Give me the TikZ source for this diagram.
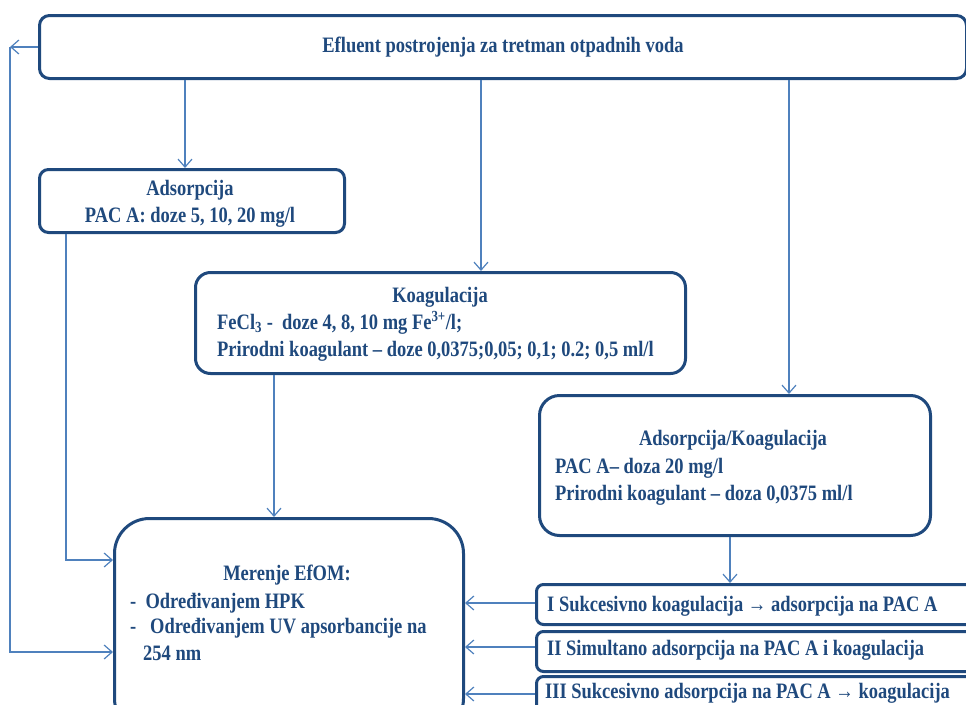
\documentclass[tikz,border=0pt]{standalone}
\usepackage{fontspec}
\setmainfont{Liberation Serif}[FakeStretch=0.84]
\usetikzlibrary{arrows.meta}
\definecolor{boxblue}{RGB}{31,73,125}
\definecolor{lineblue}{RGB}{79,129,189}

\begin{document}
\begin{tikzpicture}[x=1pt, y=-1pt,
    blk/.style={draw=boxblue, line width=3pt, fill=white, inner sep=0pt, anchor=north west},
    lbl/.style={text=boxblue, font=\bfseries\fontsize{22}{26}\selectfont, inner sep=0pt},
    link/.style={draw=lineblue, line width=1.2pt, -{Straight Barb[length=8pt, width=14pt]}}]
    \clip (0,0) rectangle (966,704);
    \useasboundingbox (0,0) rectangle (966,704);

    \node[blk, rounded corners=10pt, minimum width=927, minimum height=63] (efl) at (38,14) {};
    \node[blk, rounded corners=9pt, minimum width=305, minimum height=63] (ads) at (38,168) {};
    \node[blk, rounded corners=15pt, minimum width=490, minimum height=101] (koag) at (194,271) {};
    \node[blk, rounded corners=20pt, minimum width=391, minimum height=140] (adko) at (538,394) {};
    \node[blk, rounded corners=35pt, minimum width=349, minimum height=215] (mer) at (113,517) {};
    \foreach \yy/\hh [count=\i] in {583/40, 630/40, 675/45}
        \node[blk, rounded corners=7pt, minimum width=460, minimum height=\hh] (s\i) at (535,\yy) {};

    \node[lbl, anchor=base] (eflt) at (503,52) {Efluent postrojenja za tretman otpadnih voda};
    \node[lbl, anchor=base] (ads1) at (190,195) {Adsorpcija};
    \node[lbl, anchor=base] (ads2) at (190,222) {PAC A: doze 5, 10, 20 mg/l};
    \node[lbl, anchor=base] (koag1) at (440,302) {Koagulacija};
    \node[lbl, anchor=base west] (koag2) at (217,329) {FeCl\textsubscript{3} -\ \ doze 4, 8, 10 mg Fe\textsuperscript{3+}/l;};
    \node[lbl, anchor=base west] (koag3) at (217,356) {Prirodni koagulant – doze 0,0375;0,05; 0,1; 0.2; 0,5 ml/l};
    \node[lbl, anchor=base] (adko1) at (733,445) {Adsorpcija/Koagulacija};
    \node[lbl, anchor=base west] (adko2) at (555,473) {PAC A– doza 20 mg/l};
    \node[lbl, anchor=base west] (adko3) at (555,500) {Prirodni koagulant – doza 0,0375 ml/l};
    \node[lbl, anchor=base] (mer1) at (287,580) {Merenje EfOM:};
    \node[lbl, anchor=base west] (mer2) at (130,608) {-\ \ Određivanjem HPK};
    \node[lbl, anchor=base west] (mer3) at (130,633) {-\ \ \ Određivanjem UV apsorbancije na};
    \node[lbl, anchor=base west] (mer4) at (143,660) {254 nm};
    \node[lbl, anchor=base west] (s1t) at (547,611) {I Sukcesivno koagulacija → adsorpcija na PAC A};
    \node[lbl, anchor=base west] (s2t) at (547,655) {II Simultano adsorpcija na PAC A i koagulacija};
    \node[lbl, anchor=base west] (s3t) at (545,698) {III Sukcesivno adsorpcija na PAC A → koagulacija};

    \foreach \xx/\tgt in {185/ads, 481/koag, 789/adko}
        \draw[link] (\xx,0 |- efl.south) -- (\xx,0 |- \tgt.north);
    \draw[link] (efl.west) -- ++(-28,0) coordinate (lft);
    \draw[link] (lft) |- (mer.west |- 0,652);
    \draw[link] (66,0 |- ads.south) |- (mer.west |- 0,560);
    \draw[link] (274,0 |- koag.south) -- (274,0 |- mer.north);
    \draw[link] (730,0 |- adko.south) -- (730,0 |- s1.north);
    \foreach \i/\yy in {1/603, 2/647, 3/694}
        \draw[link] (s\i.west |- 0,\yy) -- (mer.east |- 0,\yy);
\end{tikzpicture}
\end{document}
